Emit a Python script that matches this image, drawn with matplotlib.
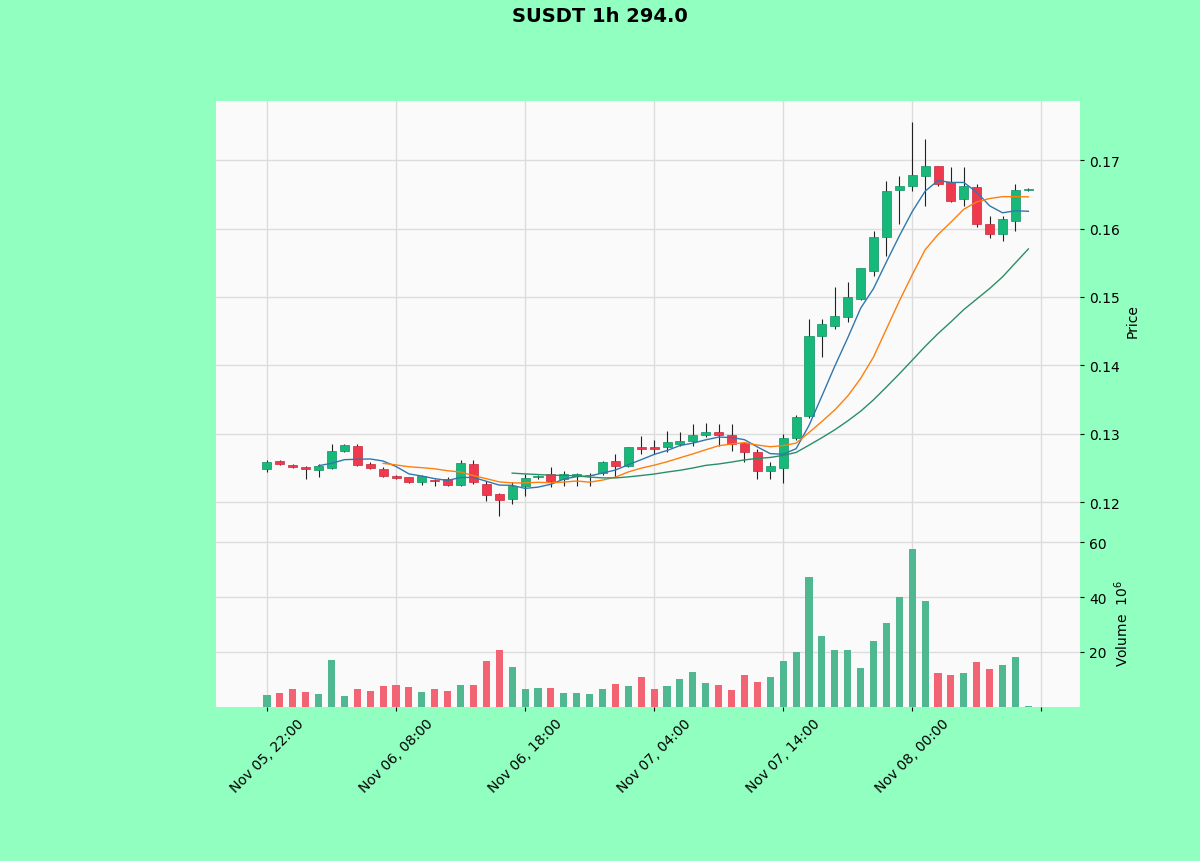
import matplotlib
matplotlib.use("Agg")
import matplotlib.pyplot as plt
import numpy as np
import pandas as pd

# ---- data ----
start_time = "2024-11-05 22:00"
n_bars = 60
opens = [0.1248, 0.1260, 0.1254, 0.1251, 0.1247, 0.1250, 0.1274, 0.1282, 0.1256, 0.1248,
         0.1238, 0.1236, 0.1230, 0.1232, 0.1234, 0.1225, 0.1256, 0.1226, 0.1212, 0.1204,
         0.1224, 0.1236, 0.1241, 0.1234, 0.1238, 0.1239, 0.1242, 0.1260, 0.1252, 0.1280,
         0.1280, 0.1280, 0.1285, 0.1289, 0.1298, 0.1303, 0.1298, 0.1286, 0.1273, 0.1245,
         0.1250, 0.1294, 0.1326, 0.1443, 0.1457, 0.1470, 0.1497, 0.1538, 0.1587, 0.1656,
         0.1662, 0.1677, 0.1691, 0.1668, 0.1643, 0.1661, 0.1606, 0.1592, 0.1611, 0.1656]
highs = [0.1261, 0.1261, 0.1256, 0.1253, 0.1256, 0.1285, 0.1285, 0.1285, 0.1258, 0.1251,
         0.1239, 0.1237, 0.1239, 0.1234, 0.1236, 0.1262, 0.1261, 0.1231, 0.1213, 0.1229,
         0.1241, 0.1240, 0.1251, 0.1245, 0.1243, 0.1243, 0.1260, 0.1270, 0.1281, 0.1296,
         0.1291, 0.1304, 0.1302, 0.1314, 0.1315, 0.1314, 0.1314, 0.1288, 0.1278, 0.1259,
         0.1299, 0.1328, 0.1468, 0.1468, 0.1514, 0.1522, 0.1543, 0.1596, 0.1669, 0.1677,
         0.1756, 0.1731, 0.1692, 0.1690, 0.1690, 0.1665, 0.1618, 0.1618, 0.1665, 0.1660]
lows = [0.1244, 0.1254, 0.1250, 0.1233, 0.1237, 0.1249, 0.1273, 0.1252, 0.1249, 0.1237,
        0.1234, 0.1228, 0.1225, 0.1224, 0.1224, 0.1223, 0.1226, 0.1201, 0.1180, 0.1197,
        0.1209, 0.1233, 0.1222, 0.1223, 0.1224, 0.1224, 0.1240, 0.1237, 0.1251, 0.1270,
        0.1270, 0.1273, 0.1282, 0.1282, 0.1295, 0.1282, 0.1275, 0.1259, 0.1234, 0.1234,
        0.1228, 0.1291, 0.1323, 0.1412, 0.1453, 0.1463, 0.1496, 0.1530, 0.1560, 0.1606,
        0.1655, 0.1633, 0.1662, 0.1639, 0.1633, 0.1602, 0.1586, 0.1582, 0.1596, 0.1655]
closes = [0.1258, 0.1256, 0.1251, 0.1248, 0.1253, 0.1275, 0.1283, 0.1254, 0.1250, 0.1238,
          0.1235, 0.1229, 0.1238, 0.1231, 0.1225, 0.1257, 0.1229, 0.1210, 0.1203, 0.1223,
          0.1235, 0.1238, 0.1231, 0.1241, 0.1241, 0.1240, 0.1259, 0.1253, 0.1280, 0.1278,
          0.1278, 0.1288, 0.1289, 0.1298, 0.1302, 0.1298, 0.1285, 0.1273, 0.1245, 0.1253,
          0.1294, 0.1325, 0.1443, 0.1460, 0.1472, 0.1500, 0.1542, 0.1587, 0.1655, 0.1662,
          0.1678, 0.1691, 0.1665, 0.1641, 0.1662, 0.1606, 0.1592, 0.1614, 0.1656, 0.1658]
volumes = [4.4, 5.1, 6.5, 5.5, 4.7, 17.0, 4.0, 6.5, 5.8, 7.6,
           8.0, 7.3, 5.5, 6.5, 5.8, 8.0, 8.0, 16.7, 20.7, 14.5,
           6.5, 6.9, 6.9, 5.1, 5.1, 4.7, 6.5, 8.4, 7.6, 10.9,
           6.5, 7.6, 10.2, 12.7, 8.7, 8.0, 6.2, 11.6, 9.1, 10.9,
           16.7, 20.0, 47.3, 25.8, 20.7, 20.7, 14.2, 24.0, 30.5, 40.0,
           57.5, 38.5, 12.4, 11.6, 12.4, 16.4, 13.8, 15.3, 18.2, 0.5]
mav_periods = [5, 10, 20]
title = "SUSDT 1h 294.0"

# ---- styling ----
fig_bg = "#90ffc0"
ax_bg = "#fafafa"
up_col = "#16b97a"
dn_col = "#f0394d"
vol_up = "#4fb890"
vol_dn = "#f26473"
mav_cols = ["#2f78ae", "#ff7f0e", "#2a8f66"]

dates = pd.date_range(start_time, periods=n_bars, freq="h")
o = np.array(opens); h = np.array(highs); l = np.array(lows); c = np.array(closes)
v = np.array(volumes)
x = np.arange(n_bars)
up = c >= o

fig = plt.figure(figsize=(12, 8.62), dpi=100, facecolor=fig_bg)
ax = fig.add_axes([0.18, 0.3735, 0.72, 0.508])
axv = fig.add_axes([0.18, 0.1787, 0.72, 0.1948], sharex=ax)

for a in (ax, axv):
    a.set_facecolor(ax_bg)
    a.grid(True, color="#dcdcdc", linewidth=1.0)
    a.set_axisbelow(True)
    for s in a.spines.values():
        s.set_visible(False)
    a.yaxis.tick_right()
    a.yaxis.set_label_position("right")
    a.tick_params(labelsize=10, colors="black", length=3)

# candles
ax.vlines(x, l, h, color="#222222", linewidth=0.8, zorder=2)
body_bottom = np.minimum(o, c)
body_h = np.maximum(np.abs(c - o), 0.00008)
ax.bar(x, body_h, bottom=body_bottom, width=0.7,
       color=np.where(up, up_col, dn_col), edgecolor=np.where(up, "#128f60", "#c42a3b"),
       linewidth=0.5, zorder=3)

# moving averages
cs = pd.Series(closes)
for p, col in zip(mav_periods, mav_cols):
    ax.plot(x, cs.rolling(p).mean().values, color=col, linewidth=1.0, zorder=4)

ax.set_ylim(0.11459, 0.17863)
ax.set_yticks([0.12, 0.13, 0.14, 0.15, 0.16, 0.17])
ax.set_yticklabels(["0.12", "0.13", "0.14", "0.15", "0.16", "0.17"])
ax.set_ylabel("Price", fontsize=10)
plt.setp(ax.get_xticklabels(), visible=False)
ax.tick_params(axis="x", length=0)

# volume
axv.bar(x, v, width=0.55, color=np.where(up, vol_up, vol_dn), zorder=3)
axv.set_ylim(0, 61.1)
axv.set_yticks([20, 40, 60])
axv.set_ylabel("Volume  $10^{6}$", fontsize=10)

axv.set_xlim(-3.95, 63.0)
tick_pos = list(range(0, 70, 10))
tick_labels = [dates[i].strftime("%b %d, %H:%M") if i < n_bars else "" for i in tick_pos]
axv.set_xticks(tick_pos)
axv.set_xticklabels(tick_labels, rotation=45, ha="center", fontsize=10)

fig.suptitle(title, fontsize=14, fontweight="bold", y=0.992)

fig.savefig("out.png", dpi=100, facecolor=fig_bg)
